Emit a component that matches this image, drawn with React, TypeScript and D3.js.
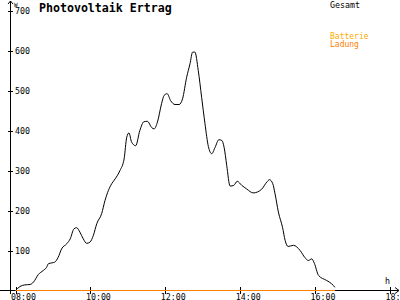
import React from "react";
import * as d3 from "d3";

const times = [8.0, 8.12, 8.25, 8.39, 8.48, 8.61, 8.74, 8.83, 8.88, 8.97, 9.05, 9.14, 9.23, 9.37, 9.46, 9.56, 9.63, 9.72, 9.81, 9.9, 9.99, 10.08, 10.17, 10.3, 10.39, 10.48, 10.57, 10.66, 10.79, 10.9, 10.97, 11.03, 11.1, 11.21, 11.32, 11.43, 11.52, 11.64, 11.7, 11.79, 11.9, 11.97, 12.05, 12.14, 12.26, 12.37, 12.46, 12.57, 12.66, 12.73, 12.79, 12.88, 12.97, 13.06, 13.15, 13.24, 13.33, 13.43, 13.51, 13.57, 13.64, 13.73, 13.83, 13.92, 14.04, 14.17, 14.35, 14.57, 14.71, 14.78, 14.87, 14.93, 15.02, 15.13, 15.2, 15.28, 15.42, 15.6, 15.73, 15.82, 15.91, 15.98, 16.09, 16.31, 16.44, 16.53];
const gesamt = [0, 10, 14, 15, 21, 40, 50, 58, 67, 69, 71, 83, 104, 117, 129, 154, 157, 146, 129, 118, 121, 138, 167, 192, 225, 250, 267, 279, 300, 329, 383, 394, 371, 362, 400, 422, 423, 407, 404, 421, 467, 488, 492, 475, 465, 465, 479, 533, 567, 596, 596, 550, 483, 417, 360, 342, 358, 377, 375, 358, 313, 261, 263, 273, 263, 254, 244, 253, 271, 277, 267, 242, 196, 158, 125, 110, 113, 100, 82, 75, 79, 68, 38, 25, 17, 8];
const ladungTimes = [8.0, 16.53];
const ladungValues = [0, 0];
const yTicks = [100, 200, 300, 400, 500, 600, 700];
const xTicks = [8, 10, 12, 14, 16, 18];
const xTickLabels = ["08:00", "10:00", "12:00", "14:00", "16:00", "18:"];
const title = "Photovoltaik Ertrag";
const legend = ["Gesamt", "Batterie", "Ladung"];

export default function App() {
  const W = 400, H = 300;
  const x = d3.scaleLinear().domain([8, 18]).range([15.5, 390]);
  const y = d3.scaleLinear().domain([0, 700]).range([290.5, 10.5]);
  const gLine = d3
    .line<number>()
    .x((_, i) => x(times[i]))
    .y((d) => y(d))
    .curve(d3.curveMonotoneX);
  const lLine = d3
    .line<number>()
    .x((_, i) => x(ladungTimes[i]))
    .y((d) => y(d));
  const mono = "'DejaVu Sans Mono', monospace";
  return (
    <svg
      width={W}
      height={H}
      style={{ position: "absolute", left: 0, top: 0, background: "#fff" }}
    >
      <rect width={W} height={H} fill="#fff" />
      <line x1={10.5} y1={1} x2={10.5} y2={294} stroke="#000" strokeWidth={1} />
      <path d="M8,4 L10.5,1 L13,4" fill="none" stroke="#000" strokeWidth={1} />
      <line x1={0} y1={290.5} x2={399} y2={290.5} stroke="#000" strokeWidth={1} />
      <path d="M395,287.5 L399,290.5 L395,293.5" fill="none" stroke="#000" strokeWidth={1} />
      {yTicks.map((t) => (
        <g key={t}>
          <line x1={8} x2={13} y1={Math.round(y(t)) + 0.5} y2={Math.round(y(t)) + 0.5} stroke="#000" />
          <text x={15} y={y(t) + 3.5} fontFamily={mono} fontSize={8.3} fill="#000">
            {t}
          </text>
        </g>
      ))}
      {xTicks.map((t, i) => (
        <g key={t}>
          <line x1={Math.round(x(t)) + 0.5} x2={Math.round(x(t)) + 0.5} y1={287} y2={294} stroke="#000" />
          <text x={x(t) - 4.5} y={299.5} fontFamily={mono} fontSize={8.3} fill="#000">
            {xTickLabels[i]}
          </text>
        </g>
      ))}
      <text x={14} y={6.5} fontFamily={mono} fontSize={6} fill="#000">W</text>
      <text x={385} y={284} fontFamily={mono} fontSize={8.3} fill="#000">h</text>
      <path d={gLine(gesamt) || ""} fill="none" stroke="#000" strokeWidth={1} />
      <path d={lLine(ladungValues) || ""} fill="none" stroke="#FF8000" strokeWidth={1.2} />
      <text x={39} y={11.5} fontFamily={mono} fontSize={11.6} fontWeight="bold" fill="#000">
        {title}
      </text>
      <text x={330} y={8} fontFamily={mono} fontSize={8.3} fill="#000">{legend[0]}</text>
      <text x={330} y={38.5} fontFamily={mono} fontSize={8} fill="#FFAA00">{legend[1]}</text>
      <text x={330} y={47} fontFamily={mono} fontSize={8} fill="#FF8000">{legend[2]}</text>
    </svg>
  );
}
